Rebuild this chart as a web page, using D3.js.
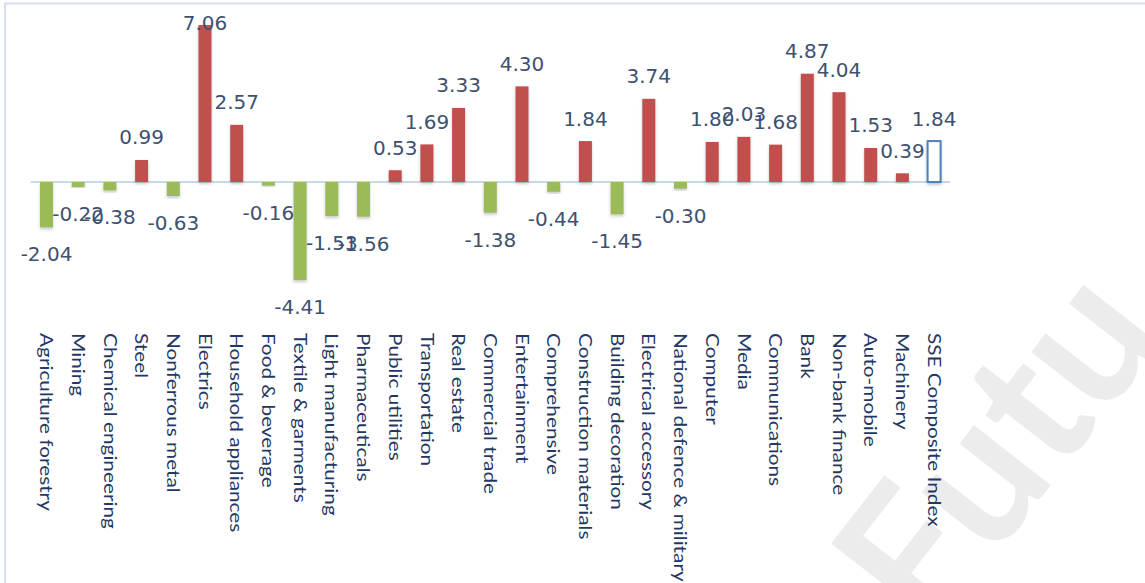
<!DOCTYPE html>
<html>
<head>
<meta charset="utf-8">
<script src="https://cdn.jsdelivr.net/npm/d3@7"></script>
<style>
  html, body { margin: 0; padding: 0; background: #ffffff; }
  svg { display: block; }
</style>
</head>
<body>
<svg id="chart" width="1145" height="583"></svg>
<script>
// ---- data ----
const categories = [
  "Agriculture forestry", "Mining", "Chemical engineering", "Steel", "Nonferrous metal",
  "Electrics", "Household appliances", "Food & beverage", "Textile & garments", "Light manufacturing",
  "Pharmaceuticals", "Public utilities", "Transportation", "Real estate", "Commercial trade",
  "Entertainment", "Comprehensive", "Construction materials", "Building decoration", "Electrical accessory",
  "National defence & military", "Computer", "Media", "Communications", "Bank",
  "Non-bank finance", "Auto-mobile", "Machinery", "SSE Composite Index"
];
const values = [
  -2.04, -0.22, -0.38, 0.99, -0.63,
  7.06, 2.57, -0.16, -4.41, -1.53,
  -1.56, 0.53, 1.69, 3.33, -1.38,
  4.30, -0.44, 1.84, -1.45, 3.74,
  -0.30, 1.80, 2.03, 1.68, 4.87,
  4.04, 1.53, 0.39, 1.84
];
const benchmark = "SSE Composite Index";

// ---- layout ----
const W = 1145, H = 583;
const zeroY = 182, pxPerUnit = 22.24;
const step = 31.7;
const svg = d3.select("#chart");

const x = d3.scaleBand()
  .domain(categories)
  .range([46.5 - step / 2, 46.5 - step / 2 + step * categories.length])
  .paddingInner(0.59)
  .paddingOuter(0.295);

const y = d3.scaleLinear()
  .domain([-5, 7.5])
  .range([zeroY + 5 * pxPerUnit, zeroY - 7.5 * pxPerUnit]);

const colors = { pos: "#c0504d", neg: "#9bbb59", bench: "#4f81bd" };

// shadow filter
const defs = svg.append("defs");
const f = defs.append("filter").attr("id", "shadow")
  .attr("x", "-50%").attr("y", "-20%").attr("width", "200%").attr("height", "140%");
f.append("feDropShadow").attr("dx", 0).attr("dy", 2).attr("stdDeviation", 1.5)
  .attr("flood-color", "#405060").attr("flood-opacity", 0.3);

// watermark
svg.append("text")
  .attr("transform", "translate(930,640) rotate(-52)")
  .attr("font-family", "Lato, 'Open Sans', sans-serif")
  .attr("font-weight", 700)
  .attr("font-size", 190)
  .attr("fill", "#ececec")
  .text("Futu");

// frame (top and left edges)
svg.append("line").attr("x1", 4).attr("x2", W).attr("y1", 3.5).attr("y2", 3.5)
  .attr("stroke", "#d3dff0").attr("stroke-width", 2);
svg.append("line").attr("x1", 5).attr("x2", 5).attr("y1", 3).attr("y2", H)
  .attr("stroke", "#d3dff0").attr("stroke-width", 2);

// zero axis line
const [r0, r1] = x.range();
svg.append("line")
  .attr("x1", r0).attr("x2", r1)
  .attr("y1", y(0)).attr("y2", y(0))
  .attr("stroke", "#b7cde6").attr("stroke-width", 1.5);

// bars
const data = categories.map((c, i) => ({ c, v: values[i] }));
svg.append("g").selectAll("rect").data(data).join("rect")
  .attr("x", d => x(d.c))
  .attr("width", x.bandwidth())
  .attr("y", d => y(Math.max(0, d.v)))
  .attr("height", d => Math.abs(y(d.v) - y(0)))
  .attr("fill", d => d.c === benchmark ? "#ffffff" : (d.v >= 0 ? colors.pos : colors.neg))
  .attr("stroke", d => d.c === benchmark ? colors.bench : "none")
  .attr("stroke-width", 2)
  .attr("filter", "url(#shadow)");

// data labels
const topLimit = 30;
svg.append("g").selectAll("text").data(data).join("text")
  .attr("x", d => x(d.c) + x.bandwidth() / 2)
  .attr("y", d => d.v >= 0 ? Math.max(y(d.v) - 15.5, topLimit) : y(d.v) + 34)
  .attr("text-anchor", "middle")
  .attr("font-family", "'DejaVu Sans', Verdana, sans-serif")
  .attr("font-size", 20)
  .attr("fill", "#3d5170")
  .text(d => d.v.toFixed(2));

// category axis labels (rotated)
const axisTop = 333;
svg.append("g").selectAll("text").data(categories).join("text")
  .attr("transform", c => `translate(${x(c) + x.bandwidth() / 2},${axisTop}) rotate(90) scale(1.155,1)`)
  .attr("dy", "0.35em")
  .attr("text-anchor", "start")
  .attr("font-family", "Lato, 'Open Sans', sans-serif")
  .attr("font-size", 18)
  .attr("fill", "#1f3864")
  .text(c => c);
</script>
</body>
</html>
